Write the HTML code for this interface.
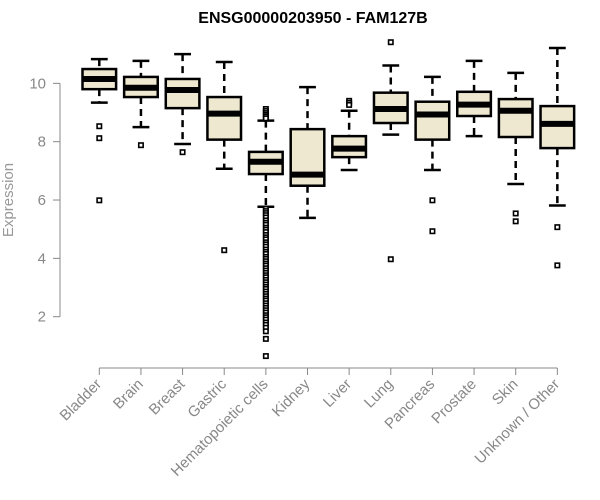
<!DOCTYPE html>
<html><head><meta charset="utf-8"><style>
body{margin:0;background:#fff;}
svg{display:block;font-family:"Liberation Sans",Arial,sans-serif;}
</style></head><body>
<svg id="chart" width="600" height="500" xmlns="http://www.w3.org/2000/svg">
<text x="313" y="23" text-anchor="middle" font-weight="bold" font-size="16" fill="#000">ENSG00000203950 - FAM127B</text>
<text transform="translate(13,200) rotate(-90)" text-anchor="middle" font-size="15" fill="#999">Expression</text>
<g id="plot"></g>
</svg>
<script>
const categories=["Bladder","Brain","Breast","Gastric","Hematopoietic cells","Kidney","Liver","Lung","Pancreas","Prostate","Skin","Unknown / Other"];
const whiskerLow=[9.34,8.50,7.92,7.07,5.77,5.39,7.03,8.24,7.03,8.19,6.55,5.81];
const q1=[9.80,9.53,9.15,8.07,6.89,6.49,7.47,8.64,8.07,8.88,8.16,7.78];
const medians=[10.15,9.85,9.77,8.96,7.31,6.87,7.76,9.12,8.93,9.27,9.06,8.61];
const q3=[10.49,10.22,10.15,9.53,7.65,8.43,8.19,9.68,9.37,9.71,9.46,9.22];
const whiskerHigh=[10.83,10.77,11.0,10.73,8.72,9.87,9.06,10.61,10.22,10.77,10.36,11.21];
const outliers=[
 [8.53,8.12,5.99],
 [7.88],
 [7.64],
 [4.28],
 [9.12,9.05,8.98,8.92,8.86,8.80,5.70,5.62,5.55,5.48,5.40,5.30,5.22,5.15,5.05,4.98,4.90,4.80,4.72,4.65,4.55,4.48,4.40,4.30,4.22,4.15,4.05,3.98,3.90,3.82,3.75,3.66,3.58,3.50,3.42,3.35,3.26,3.18,3.10,3.02,2.95,2.86,2.78,2.70,2.62,2.55,2.46,2.38,2.30,2.22,2.14,2.05,1.98,1.90,1.80,1.72,1.62,1.50,1.24,0.65],
 [],
 [9.40,9.33,9.26],
 [11.41,3.97],
 [5.99,4.93],
 [],
 [5.54,5.27],
 [5.07,3.76]
];
const yTicks=[2,4,6,8,10];
const NS="http://www.w3.org/2000/svg";
const g=document.getElementById("plot");
function y(v){return 316.7-(v-2)*29.17;}
function x(i){return 99.3+i*41.64;}
function el(tag,attrs,parent){const e=document.createElementNS(NS,tag);for(const k in attrs)e.setAttribute(k,attrs[k]);(parent||g).appendChild(e);return e;}
const ya=el("g",{});


el("line",{x1:60,x2:60,y1:y(10),y2:y(2),stroke:"#888","stroke-width":1},ya);
yTicks.forEach(t=>{
 el("line",{x1:53,x2:60,y1:y(t),y2:y(t),stroke:"#888"},ya);
 const tx=el("text",{x:46,y:y(t)+5,"text-anchor":"end","font-size":15,fill:"#888"},ya);
 
 
 tx.textContent=t;
});
const xa=el("g",{});


el("line",{x1:x(0),x2:x(categories.length-1),y1:368,y2:368,stroke:"#888"},xa);
categories.forEach((c,i)=>{
 el("line",{x1:x(i),x2:x(i),y1:368,y2:375,stroke:"#888"},xa);
 const tx=el("text",{transform:`translate(${x(i)+3},${385}) rotate(-45)`,"text-anchor":"end","font-size":15,fill:"#888"},xa);
 
 
 tx.textContent=c;
});
const hw=16.8,cw=8.4;
categories.forEach((c,i)=>{
 const b=el("g",{});
 
 
 const cx=x(i);
 el("line",{x1:cx,x2:cx,y1:y(whiskerHigh[i]),y2:y(q3[i]),stroke:"#000","stroke-width":2.5,"stroke-dasharray":"7,5"},b);
 el("line",{x1:cx,x2:cx,y1:y(q1[i]),y2:y(whiskerLow[i]),stroke:"#000","stroke-width":2.5,"stroke-dasharray":"7,5"},b);
 el("line",{x1:cx-cw,x2:cx+cw,y1:y(whiskerHigh[i]),y2:y(whiskerHigh[i]),stroke:"#000","stroke-width":2.5},b);
 el("line",{x1:cx-cw,x2:cx+cw,y1:y(whiskerLow[i]),y2:y(whiskerLow[i]),stroke:"#000","stroke-width":2.5},b);
 el("rect",{x:cx-hw,y:y(q3[i]),width:hw*2,height:y(q1[i])-y(q3[i]),fill:"#ede8cf",stroke:"#000","stroke-width":2.5},b);
 el("line",{x1:cx-hw,x2:cx+hw,y1:y(medians[i]),y2:y(medians[i]),stroke:"#000","stroke-width":6},b);
 outliers[i].forEach(v=>{
  const o=el("rect",{x:cx-2.2,y:y(v)-2.2,width:4.4,height:4.4,fill:"#fff",stroke:"#000","stroke-width":1.6},b);
  
  
 });
});
</script>
</body></html>
